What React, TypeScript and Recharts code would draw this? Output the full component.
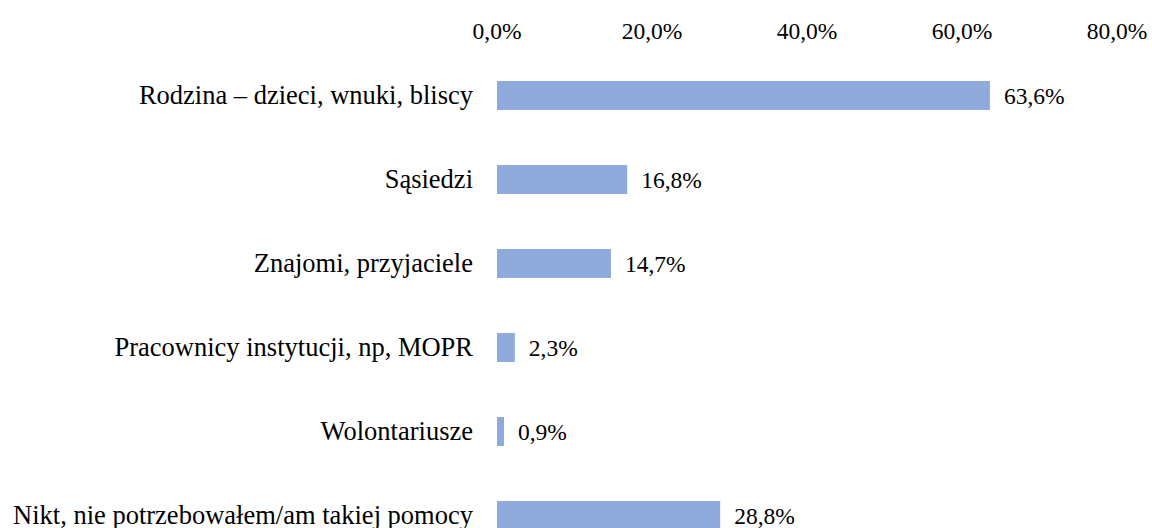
import { BarChart, Bar, XAxis, YAxis, LabelList } from "recharts";

const categories = [
  "Rodzina – dzieci, wnuki, bliscy",
  "Sąsiedzi",
  "Znajomi, przyjaciele",
  "Pracownicy instytucji, np, MOPR",
  "Wolontariusze",
  "Nikt, nie potrzebowałem/am takiej pomocy",
];
const shares = [63.6, 16.8, 14.7, 2.3, 0.9, 28.8];
const xTicks = [0, 20, 40, 60, 80];

const data = categories.map((name, i) => ({ name, value: shares[i] }));

const fmt = (v: number) => v.toFixed(1).replace(".", ",") + "%";
const font = "Liberation Serif, Times New Roman, serif";

export default function App() {
  return (
    <div style={{ width: 1152, height: 528, overflow: "hidden", fontFamily: font }}>
      {/* the chart runs past the bottom edge like the source image, so the frame clips it */}
      <style>{"body{margin:0;overflow:hidden} .recharts-surface{overflow:visible}"}</style>
      <div style={{ paddingLeft: 8, paddingTop: 8 }}>
        <BarChart
          width={1144}
          height={560}
          data={data}
          layout="vertical"
          margin={{ top: 0, right: 35, left: 0, bottom: 11 }}
        >
          <XAxis
            type="number"
            orientation="top"
            domain={[0, 80]}
            ticks={xTicks}
            tickFormatter={fmt}
            height={45}
            axisLine={false}
            tickLine={false}
            tickSize={0}
            tickMargin={14}
            tick={{ fontSize: 23.5, fill: "#000", fontFamily: font }}
          />
          <YAxis
            type="category"
            dataKey="name"
            width={489}
            axisLine={false}
            tickLine={false}
            tickSize={0}
            tickMargin={24}
            interval={0}
            tick={{ fontSize: 26.5, fill: "#000", fontFamily: font }}
          />
          <Bar dataKey="value" fill="#8faadc" barSize={29} isAnimationActive={false}>
            <LabelList
              dataKey="value"
              position="right"
              offset={14}
              formatter={(v: any) => fmt(Number(v))}
              style={{ fontSize: 23.5, fill: "#000", fontFamily: font }}
            />
          </Bar>
        </BarChart>
      </div>
    </div>
  );
}
